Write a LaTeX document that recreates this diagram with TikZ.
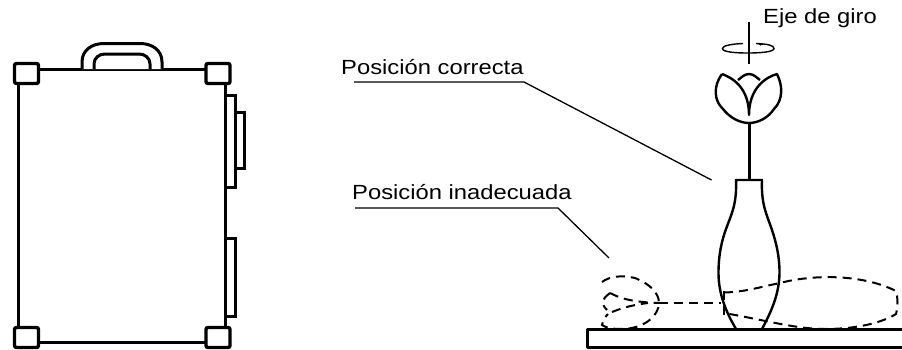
\documentclass[tikz,border=0pt]{standalone}
\usepackage{fontspec}
\newfontfamily\labelfont[FakeStretch=1.16]{Liberation Sans}
\usetikzlibrary{arrows.meta,positioning}

\begin{document}
\begin{tikzpicture}[
  x=1pt,y=-1pt,
  outline/.style={draw=black, line width=3pt, line join=round},
  corner/.style={draw=black, fill=white, rounded corners=2pt, line width=3.4pt},
  latch/.style={draw=black, fill=white, line width=3pt},
  thinline/.style={draw=black, line width=1.5pt},
  leader/.style={draw=black, line width=1.3pt},
  fallen/.style={draw=black, line width=2pt, dash pattern=on 9pt off 6pt},
  textlabel/.style={font=\labelfont\fontsize{20.5}{24}\selectfont, text=black, inner sep=0pt, anchor=base west}
]
\useasboundingbox (0,0) rectangle (902,349);

% suitcase
\draw[outline] (18.5,69) rectangle (225,342);
\draw[latch] (225,95) rectangle (235,187);
\draw[latch] (235,112.5) rectangle (244,168);
\draw[latch] (225,238) rectangle (235,316);
\draw[outline, fill=white] (82,69) -- (82,62) .. controls (82,50) and (92,43.5) .. (104,43.5)
  -- (140,43.5) .. controls (152,43.5) and (162,50) .. (162,62) -- (162,69);
\draw[outline] (94,69) -- (94,64) .. controls (94,58) and (99,54) .. (105,54)
  -- (139,54) .. controls (145,54) and (150,58) .. (150,64) -- (150,69);
\foreach \x/\y in {14.5/63.5,206/63.5,14.5/327.5,206/327.5}
  \draw[corner] (\x,\y) rectangle ++(24,20);

% base
\draw[outline] (587.5,329.5) rectangle (910,347);

% flower standing in the vase
\draw[outline] (749,123) -- (749,180);
\draw[outline, line width=2.4pt] (722,74) .. controls (713,86) and (714,101) .. (723,109)
  .. controls (730,118) and (740,123) .. (749,123)
  .. controls (758,123) and (768,118) .. (774,109)
  .. controls (783,100) and (783,86) .. (777,74)
  .. controls (766,77) and (749,88) .. (749,115)
  .. controls (749,88) and (733,78) .. (722,74);
\draw[outline, line width=2.4pt] (738,80) .. controls (741,78) and (744,74) .. (749,74)
  .. controls (754,74) and (757,78) .. (760,80);
\draw[thinline] (749,22) -- (749,64);
\draw[line width=1.4pt] (756,43.5) .. controls (768,44) and (774,45.5) .. (774,48.5)
  .. controls (774,52) and (760,53) .. (748,53)
  .. controls (735,53) and (722.5,52) .. (722.5,48.5)
  .. controls (722.5,45.5) and (732,44) .. (743,43.5);
\draw[line width=1.1pt, -{Latex[length=3pt,width=3pt]}] (763,44.5) -- (758,44);

% vase
\draw[outline, line width=2.4pt] (736,329) .. controls (726,312) and (718.5,294) .. (718.5,273)
  .. controls (718.5,254) and (722,240) .. (726,229)
  .. controls (731,215) and (737,205) .. (736,180) -- (762,180)
  .. controls (761,205) and (767,215) .. (772,230)
  .. controls (776,242) and (779.5,256) .. (779.5,272)
  .. controls (779.5,294) and (771,312) .. (762,329);

% fallen position
\draw[fallen] (602,282) .. controls (610,276) and (622,275) .. (635,278)
  .. controls (650,284) and (659,293) .. (659,303)
  .. controls (659,315) and (645,329) .. (621,329)
  .. controls (613,329) and (606,328) .. (602,325)
  .. controls (603,320) and (605,317) .. (608,314);
\draw[fallen] (610,293) .. controls (606,296) and (603,299) .. (603,302)
  .. controls (603,306) and (605,308) .. (607,310);
\draw[fallen] (610,293) .. controls (618,297) and (628,302) .. (659,303);
\draw[fallen] (612,312) .. controls (622,308) and (632,305) .. (648,303);
\draw[fallen] (659,303) -- (721,303);
\draw[fallen] (724,291) -- (724,315);
\draw[fallen] (724,292.5) .. controls (745,292) and (760,287) .. (780,283)
  .. controls (810,275) and (860,273) .. (896,291)
  .. controls (898,298) and (898,306) .. (896,314)
  .. controls (878,325) and (850,329) .. (825,329)
  .. controls (795,329) and (765,320) .. (724,313);

% labels
\node[textlabel] (correcta) at (341,74.5) {Posición correcta};
\node[textlabel] (inadecuada) at (352,199.5) {Posición inadecuada};
\node[textlabel] (giro) at (763,23.5) {Eje de giro};
\coordinate (correctaL) at (354,82);
\coordinate (correctaM) at (524,82);
\coordinate (correctaE) at (711.5,180);
\coordinate (inadecuadaL) at (355,208);
\coordinate (inadecuadaM) at (558,208);
\coordinate (inadecuadaE) at (609,258);
\draw[leader] (correctaL) -- (correctaM) -- (correctaE);
\draw[leader] (inadecuadaL) -- (inadecuadaM) -- (inadecuadaE);
\end{tikzpicture}
\end{document}
